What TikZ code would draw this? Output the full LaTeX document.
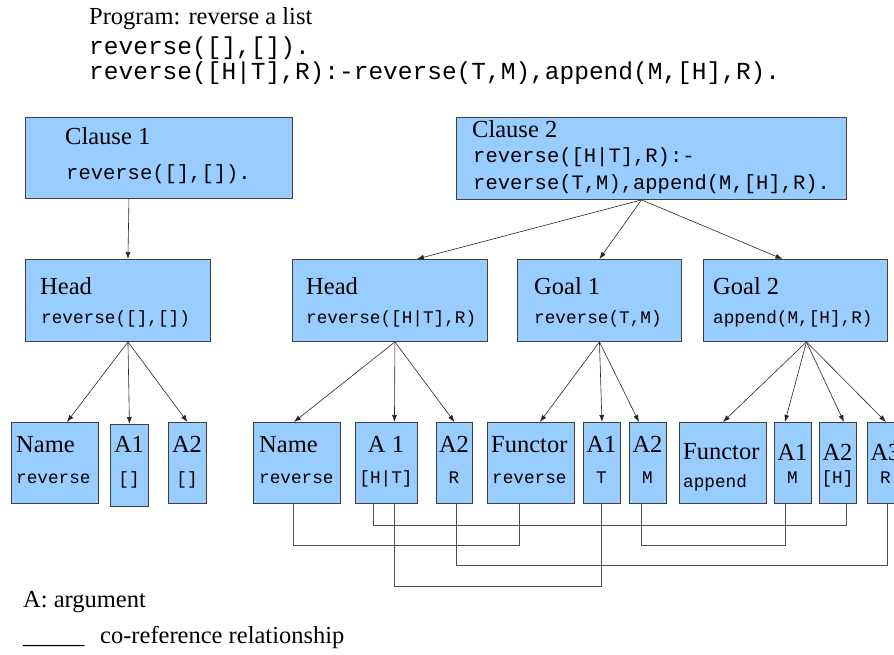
\documentclass[tikz,border=0pt]{standalone}
\usepackage{fontspec}
\setmainfont{Liberation Serif}
\setmonofont{Liberation Mono}
\usetikzlibrary{arrows.meta}
\definecolor{boxblue}{RGB}{153,204,255}
\definecolor{boxedge}{RGB}{64,64,64}
\definecolor{refline}{RGB}{80,80,80}
\tikzset{
  box/.style={draw=boxedge, fill=boxblue, line width=0.9pt, anchor=north west, inner sep=0pt},
  ttl/.style={font=\fontsize{24.5}{28}\selectfont, anchor=base west, inner sep=0pt},
  ttlc/.style={ttl, anchor=base},
  bigcode/.style={font=\ttfamily\fontsize{24.5}{28}\selectfont, anchor=base west, inner sep=0pt},
  clcode/.style={font=\ttfamily\fontsize{20.5}{24}\selectfont, anchor=base west, inner sep=0pt},
  code/.style={font=\ttfamily\fontsize{17.7}{20}\selectfont, anchor=base west, inner sep=0pt},
  argcode/.style={code, anchor=base},
  arr/.style={-{Latex[length=7pt,width=5pt]}, line width=0.6pt, black!85},
  coref/.style={refline, line width=0.8pt}
}
\begin{document}
\begin{tikzpicture}[x=1pt, y=-1pt]
\useasboundingbox (0,0) rectangle (894,655);
% program text
\node[ttl] (prog) at (89,25) {Program: reverse a list};
\node[bigcode] (prog1) at (89,55) {reverse([],[]).};
\node[bigcode] (prog2) at (89,80) {reverse([H|T],R):-reverse(T,M),append(M,[H],R).};

% clauses
\node[box, minimum width=267, minimum height=81] (c1) at (25,117) {};
\node[ttl] (c1t) at (65,145) {Clause 1};
\node[clcode] (c1c) at (66,180) {reverse([],[]).};
\node[box, minimum width=390, minimum height=82] (c2) at (456,117) {};
\node[ttl] (c2t) at (472,138) {Clause 2};
\node[clcode] (c2c) at (473,163) {reverse([H|T],R):-};
\node[clcode] (c2d) at (473,190) {reverse(T,M),append(M,[H],R).};

% head and goals
\node[box, minimum width=185, minimum height=82] (h1) at (25,259) {};
\node[ttl] (h1t) at (40,294) {Head};
\node[code] (h1c) at (41,323) {reverse([],[])};
\node[box, minimum width=195, minimum height=82] (h2) at (292,259) {};
\node[ttl] (h2t) at (306,294) {Head};
\node[code] (h2c) at (306,323) {reverse([H|T],R)};
\node[box, minimum width=164, minimum height=82] (g1) at (517,259) {};
\node[ttl] (g1t) at (534,294) {Goal 1};
\node[code] (g1c) at (534,323) {reverse(T,M)};
\node[box, minimum width=184, minimum height=82] (g2) at (703,259) {};
\node[ttl] (g2t) at (713,294) {Goal 2};
\node[code] (g2c) at (713,323) {append(M,[H],R)};

% names, functors and arguments
\node[box, minimum width=87, minimum height=81] (n1) at (11,422) {};
\node[ttl] (n1t) at (16,452) {Name};
\node[code] (n1c) at (16,483) {reverse};
\node[box, minimum width=38, minimum height=82] (a11) at (110,424) {};
\node[ttlc] (a11t) at (129,452) {A1};
\node[argcode] (a11c) at (129,484) {[]};
\node[box, minimum width=38, minimum height=81] (a12) at (168,422) {};
\node[ttlc] (a12t) at (187,452) {A2};
\node[argcode] (a12c) at (187,484) {[]};

\node[box, minimum width=87, minimum height=81] (n2) at (253,422) {};
\node[ttl] (n2t) at (259,452) {Name};
\node[code] (n2c) at (259,483) {reverse};
\node[box, minimum width=62, minimum height=81] (a21) at (355,422) {};
\node[ttlc] (a21t) at (386,452) {A 1};
\node[argcode] (a21c) at (386,483) {[H|T]};
\node[box, minimum width=36, minimum height=81] (a22) at (436,422) {};
\node[ttlc] (a22t) at (454,452) {A2};
\node[argcode] (a22c) at (454,483) {R};

\node[box, minimum width=87, minimum height=81] (f1) at (487,422) {};
\node[ttl] (f1t) at (491,452) {Functor};
\node[code] (f1c) at (492,483) {reverse};
\node[box, minimum width=37, minimum height=81] (a31) at (583,422) {};
\node[ttlc] (a31t) at (601.5,452) {A1};
\node[argcode] (a31c) at (601.5,483) {T};
\node[box, minimum width=37, minimum height=81] (a32) at (629,422) {};
\node[ttlc] (a32t) at (647.5,452) {A2};
\node[argcode] (a32c) at (647.5,483) {M};

\node[box, minimum width=87, minimum height=81] (f2) at (679,422) {};
\node[ttl] (f2t) at (683,459) {Functor};
\node[code] (f2c) at (683,487) {append};
\node[box, minimum width=37, minimum height=81] (a41) at (774,422) {};
\node[ttlc] (a41t) at (792.5,460) {A1};
\node[argcode] (a41c) at (792.5,483) {M};
\node[box, minimum width=37, minimum height=81] (a42) at (819,422) {};
\node[ttlc] (a42t) at (837.5,460) {A2};
\node[argcode] (a42c) at (837.5,483) {[H]};
\node[box, minimum width=37, minimum height=81] (a43) at (867,422) {};
\node[ttlc] (a43t) at (885.5,460) {A3};
\node[argcode] (a43c) at (885.5,483) {R};

% tree arrows
\draw[arr] ([xshift=-30pt]c1.south) -- ([xshift=10pt]h1.north);
\draw[arr] ([xshift=-10pt]c2.south) -- ([xshift=27pt]h2.north);
\draw[arr] ([xshift=-10pt]c2.south) -- (g1.north);
\draw[arr] ([xshift=-10pt]c2.south) -- ([xshift=-13pt]g2.north);
\draw[arr] ([xshift=10pt]h1.south) -- ([xshift=12pt]n1.north);
\draw[arr] ([xshift=10pt]h1.south) -- (a11.north);
\draw[arr] ([xshift=10pt]h1.south) -- (a12.north);
\draw[arr] ([xshift=5pt]h2.south) -- ([xshift=-3pt]n2.north);
\draw[arr] ([xshift=5pt]h2.south) -- ([xshift=8pt]a21.north);
\draw[arr] ([xshift=5pt]h2.south) -- (a22.north);
\draw[arr] (g1.south) -- ([xshift=9pt]f1.north);
\draw[arr] (g1.south) -- (a31.north);
\draw[arr] (g1.south) -- ([xshift=-9pt]a32.north);
\draw[arr] ([xshift=11pt]g2.south) -- (f2.north);
\draw[arr] ([xshift=11pt]g2.south) -- ([xshift=-8pt]a41.north);
\draw[arr] ([xshift=11pt]g2.south) -- ([xshift=6pt]a42.north);
\draw[arr] ([xshift=11pt]g2.south) -- (a43.north);

% co-reference lines
\draw[coref] ([xshift=-13pt]a21.south) -- ++(0,21) -| ([xshift=8pt]a42.south);
\draw[coref] ([xshift=-4pt]n2.south) -- ++(0,41) -| ([xshift=-12pt]f1.south);
\draw[coref] ([xshift=-7pt]a32.south) -- ++(0,41) -| ([xshift=-8pt]a41.south);
\draw[coref] ([xshift=2pt]a22.south) -- ++(0,61) -| ([xshift=1pt]a43.south);
\draw[coref] ([xshift=8pt]a21.south) -- ++(0,82) -| ([xshift=-1pt]a31.south);

% legend
\node[ttl] (leg1) at (23,607) {A: argument};
\node[ttl] (leg2) at (23,643) {\_\_\_\_\_};
\node[ttl] (leg3) at (100,643) {co-reference relationship};
\end{tikzpicture}
\end{document}
